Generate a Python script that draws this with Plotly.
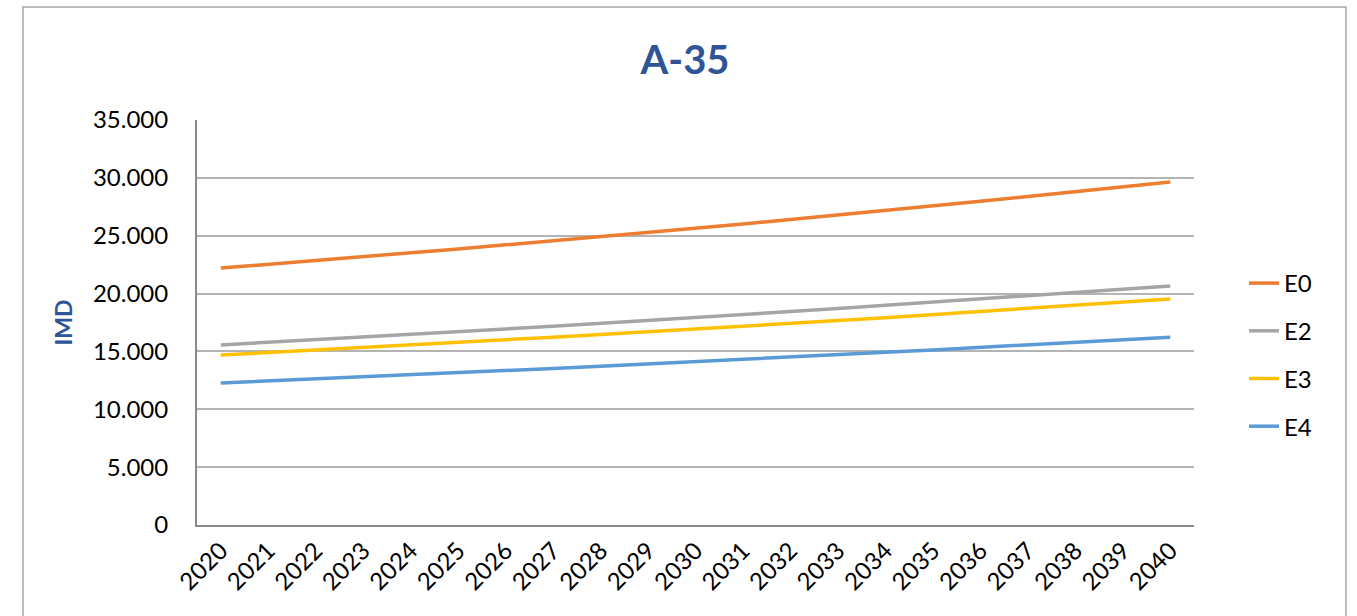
import plotly.graph_objects as go

years = [str(y) for y in range(2020, 2041)]
E0 = [22200, 22520, 22850, 23180, 23520, 23860, 24210, 24560, 24920, 25280, 25650,
      26020, 26400, 26780, 27170, 27570, 27970, 28380, 28790, 29210, 29640]
E2 = [15560, 15780, 16010, 16240, 16470, 16700, 16940, 17180, 17420, 17670, 17920,
      18180, 18440, 18700, 18970, 19240, 19510, 19790, 20070, 20360, 20660]
E3 = [14690, 14900, 15110, 15330, 15550, 15770, 16000, 16230, 16460, 16690, 16930,
      17170, 17420, 17670, 17920, 18180, 18440, 18700, 18970, 19240, 19530]
E4 = [12270, 12440, 12610, 12790, 12970, 13150, 13340, 13530, 13720, 13910, 14110,
      14310, 14510, 14710, 14920, 15130, 15340, 15560, 15780, 16000, 16230]

series = [("E0", E0, "#ED7D31"), ("E2", E2, "#A5A5A5"),
          ("E3", E3, "#FFC000"), ("E4", E4, "#5B9BD5")]
yticks = [0, 5000, 10000, 15000, 20000, 25000, 30000, 35000]

FONT = "Lato"
fig = go.Figure()
for i, (name, vals, col) in enumerate(series):
    fig.add_trace(go.Scatter(x=years, y=vals, name=name, mode="lines",
                             line=dict(color=col, width=3.5),
                             legendgroup=name))

L, R, T, B = 197, 1194, 120, 525
W, H = 1357, 616
pw, ph = R - L, B - T

def px_x(p):
    return (p - L) / pw

def px_y(p):
    return (B - p) / ph

fig.update_layout(
    width=W, height=H,
    margin=dict(l=L, r=W - R, t=T, b=H - B, pad=0),
    paper_bgcolor="white", plot_bgcolor="white",
    separators=",.",
    font=dict(family=FONT, size=22, color="black"),
    title=dict(text="<b>A-35</b>", x=(685) / W, xanchor="center",
               y=1 - 60 / H, yanchor="middle",
               font=dict(family=FONT, size=40, color="#2F5597")),
    showlegend=True,
    legend=dict(x=px_x(1244), xanchor="left", y=px_y(261), yanchor="top",
                font=dict(family=FONT, size=24, color="black"),
                tracegroupgap=13.5, traceorder="grouped",
                bgcolor="rgba(0,0,0,0)"),
    xaxis=dict(type="category", range=[-0.5, 20.5], tickangle=-45,
               showgrid=False, showline=True, linecolor="#898989", linewidth=2,
               ticks="", tickfont=dict(family=FONT, size=24, color="black"),
               fixedrange=True),
    yaxis=dict(range=[0, 35000], tickvals=yticks, tickformat=",d",
               showgrid=True, gridcolor="#B4B4B4", gridwidth=1.5,
               showline=True, linecolor="#898989", linewidth=2,
               zeroline=False, ticks="", ticklabelstandoff=22,
               tickfont=dict(family=FONT, size=24, color="black"),
               title=dict(text="<b>IMD</b>", standoff=14,
                          font=dict(family=FONT, size=23, color="#2F5597")),
               fixedrange=True),
)

fig.add_shape(type="rect", xref="paper", yref="paper",
              x0=px_x(23), x1=px_x(1346), y0=px_y(640), y1=px_y(7),
              line=dict(color="#A6A6A6", width=1.5), layer="below")

fig.write_html("out.html")
